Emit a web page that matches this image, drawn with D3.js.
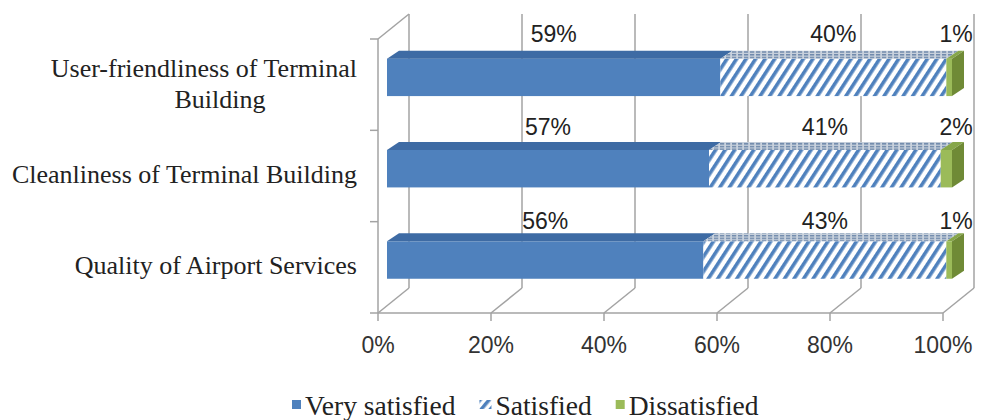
<!DOCTYPE html>
<html>
<head>
<meta charset="utf-8">
<script src="https://cdn.jsdelivr.net/npm/d3@7"></script>
<style>
  html, body { margin: 0; padding: 0; background: #ffffff; }
  svg { display: block; }
</style>
</head>
<body>
<svg id="chart" width="987" height="420"></svg>
<script>
// Survey results: satisfaction with the terminal, stacked to 100%
const categories = [
  "User-friendliness of Terminal Building",
  "Cleanliness of Terminal Building",
  "Quality of Airport Services"
];
const categoryLines = [
  ["User-friendliness of Terminal", "Building"],
  ["Cleanliness of Terminal Building"],
  ["Quality of Airport Services"]
];
const seriesNames = ["Very satisfied", "Satisfied", "Dissatisfied"];
const verySatisfied = [59, 57, 56];
const satisfied = [40, 41, 43];
const dissatisfied = [1, 2, 1];
const xTickValues = [0, 20, 40, 60, 80, 100];

const svg = d3.select("#chart");
const W = 987, H = 420;
svg.append("rect").attr("width", W).attr("height", H).attr("fill", "#ffffff");

// Front plane of the 3-D plot box and its depth offset
const x = d3.scaleLinear().domain([0, 100]).range([378, 943]);
const y = d3.scaleBand().domain(categories).range([39, 313]);
const bw = y.bandwidth();
const depthX = 31, depthY = -25;      // wall depth
const barShift = 9;                   // bars sit slightly inside the box
const barDX = 12, barDY = -8;         // bar thickness
const gridColor = "#a3a3a3";

const defs = svg.append("defs");
// diagonal hatch for "Satisfied"
const hatch = defs.append("pattern")
  .attr("id", "hatch").attr("patternUnits", "userSpaceOnUse")
  .attr("width", 8).attr("height", 8)
  .attr("patternTransform", "rotate(33)");
hatch.append("rect").attr("width", 8).attr("height", 8).attr("fill", "#ffffff");
hatch.append("rect").attr("x", 0).attr("width", 3.6).attr("height", 8).attr("fill", "#4f81bd");
// top face of the hatched segment
const hatchTop = defs.append("pattern")
  .attr("id", "hatchTop").attr("patternUnits", "userSpaceOnUse")
  .attr("width", 6).attr("height", 2.7);
hatchTop.append("rect").attr("width", 6).attr("height", 2.7).attr("fill", "#c9d2dd");
hatchTop.append("rect").attr("width", 4.2).attr("height", 1.5).attr("fill", "#6f89ab");
// legend swatch hatch
const hatchKey = defs.append("pattern")
  .attr("id", "hatchKey").attr("patternUnits", "userSpaceOnUse")
  .attr("width", 7).attr("height", 7)
  .attr("patternTransform", "rotate(40)");
hatchKey.append("rect").attr("width", 7).attr("height", 7).attr("fill", "#ffffff");
hatchKey.append("rect").attr("width", 3.5).attr("height", 7).attr("fill", "#4f81bd");

// ---- walls and gridlines ----
const grid = svg.append("g").attr("stroke", gridColor).attr("stroke-width", 1.5).attr("fill", "none");
const yTop = y.range()[0], yBot = y.range()[1];
xTickValues.forEach(v => {
  // back wall vertical gridline
  grid.append("line")
    .attr("x1", x(v) + depthX).attr("y1", yTop + depthY)
    .attr("x2", x(v) + depthX).attr("y2", yBot + depthY);
  // floor diagonal
  grid.append("line")
    .attr("x1", x(v)).attr("y1", yBot)
    .attr("x2", x(v) + depthX).attr("y2", yBot + depthY);
});
// left wall: front axis and top edge
grid.append("line").attr("x1", x(0)).attr("y1", yTop).attr("x2", x(0)).attr("y2", yBot);
grid.append("line").attr("x1", x(0)).attr("y1", yTop).attr("x2", x(0) + depthX).attr("y2", yTop + depthY);
// category ticks on the left axis
const catTicks = categories.map(c => y(c)).concat([yBot]);
catTicks.forEach(t => {
  grid.append("line").attr("x1", x(0) - 8).attr("y1", t).attr("x2", x(0)).attr("y2", t);
});
// floor front edge and value ticks
grid.append("line").attr("x1", x(0)).attr("y1", yBot).attr("x2", x(100)).attr("y2", yBot);
xTickValues.forEach(v => {
  grid.append("line").attr("x1", x(v)).attr("y1", yBot).attr("x2", x(v)).attr("y2", yBot + 8);
});

// ---- value axis labels ----
svg.append("g")
  .attr("font-family", "'Liberation Sans', Arial, sans-serif")
  .attr("font-size", 23).attr("fill", "#333333").attr("text-anchor", "middle")
  .selectAll("text").data(xTickValues).join("text")
  .attr("x", d => x(d)).attr("y", 353)
  .text(d => d + "%");

// ---- stacked 3-D bars ----
const rows = categories.map((c, i) => ({
  category: c,
  "Very satisfied": verySatisfied[i],
  "Satisfied": satisfied[i],
  "Dissatisfied": dissatisfied[i]
}));
const stack = d3.stack().keys(seriesNames)(rows);

const faces = {
  "Very satisfied": { front: "#4f81bd", top: "#3e6ba4", side: "#3a659b" },
  "Satisfied":      { front: "url(#hatch)", top: "url(#hatchTop)", side: "#9fb3cc" },
  "Dissatisfied":   { front: "#9bbb59", top: "#86a64a", side: "#6f8a36" }
};

const bars = svg.append("g");
stack.forEach((layer, li) => {
  const f = faces[layer.key];
  layer.forEach((seg, ci) => {
    const c = categories[ci];
    const x0 = x(seg[0]) + barShift, x1 = x(seg[1]) + barShift;
    const top = y(c) + bw * 0.215, h = bw * 0.41;
    bars.append("rect")
      .attr("x", x0).attr("y", top).attr("width", x1 - x0).attr("height", h)
      .attr("fill", f.front);
    bars.append("polygon")
      .attr("points", [[x0, top], [x0 + barDX, top + barDY], [x1 + barDX, top + barDY], [x1, top]].join(" "))
      .attr("fill", f.top);
    if (li === stack.length - 1) {
      bars.append("polygon")
        .attr("points", [[x1, top], [x1 + barDX, top + barDY], [x1 + barDX, top + barDY + h], [x1, top + h]].join(" "))
        .attr("fill", f.side);
    }
  });
});

// ---- data labels ----
const labels = svg.append("g")
  .attr("font-family", "'Liberation Sans', Arial, sans-serif")
  .attr("font-size", 23).attr("fill", "#222222").attr("text-anchor", "middle");
stack.forEach(layer => {
  layer.forEach((seg, ci) => {
    const c = categories[ci];
    const v = seg[1] - seg[0];
    const cx = v < 5 ? x(seg[1]) + barShift + 4 : x((seg[0] + seg[1]) / 2) + barShift;
    labels.append("text")
      .attr("x", cx).attr("y", y(c) + 3 + ci * 2)
      .text(v + "%");
  });
});

// ---- category labels ----
const catG = svg.append("g")
  .attr("font-family", "'Liberation Serif', 'Times New Roman', serif")
  .attr("font-size", 26).attr("fill", "#222222");
categories.forEach((c, i) => {
  const lines = categoryLines[i];
  const mid = y(c) + bw / 2;
  if (lines.length === 1) {
    catG.append("text").attr("text-anchor", "end")
      .attr("x", 357).attr("y", mid + 7).text(lines[0]);
  } else {
    const t = catG.append("text").attr("text-anchor", "middle");
    const probe = catG.append("text").text(lines[0]);
    const w = probe.node().getComputedTextLength();
    probe.remove();
    const cx = 357 - w / 2;
    lines.forEach((ln, k) => {
      t.append("tspan").attr("x", cx + (k > 0 ? 16 : 0)).attr("y", mid - 8 + k * 31).text(ln);
    });
  }
});

// ---- legend ----
const legend = svg.append("g")
  .attr("font-family", "'Liberation Serif', 'Times New Roman', serif")
  .attr("font-size", 27.5).attr("fill", "#222222");
const keyFill = { "Very satisfied": "#4f81bd", "Satisfied": "url(#hatchKey)", "Dissatisfied": "#9bbb59" };
let lx = 292;
seriesNames.forEach(name => {
  const kw = name === "Satisfied" ? 12 : 9;
  legend.append("rect").attr("x", lx).attr("y", 400).attr("width", kw).attr("height", 9)
    .attr("fill", keyFill[name]);
  const t = legend.append("text").attr("x", lx + kw + 4).attr("y", 415).text(name);
  lx += kw + 4 + t.node().getComputedTextLength() + 24;
});
</script>
</body>
</html>
